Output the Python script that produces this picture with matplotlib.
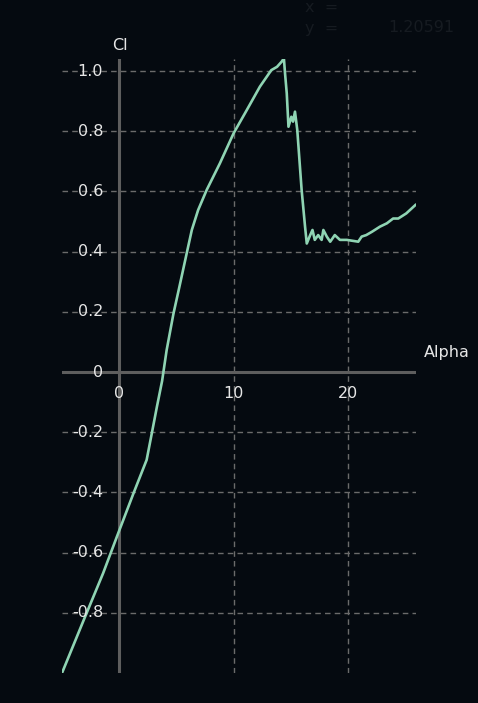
import matplotlib
matplotlib.use('Agg')
import matplotlib.pyplot as plt

# Lift curve (alpha in degrees, Cl)
alpha = [-5.0, -3.1, -1.4, -0.2, 1.25, 2.4, 2.85, 3.3, 3.75, 4.15, 4.75, 5.2, 5.9, 6.35,
         6.9, 7.65, 8.8, 10.0, 11.15, 12.3, 13.3, 13.8, 14.2, 14.4, 14.5, 14.65, 14.8,
         15.05, 15.2, 15.37, 15.57, 15.95, 16.25, 16.4, 16.7, 16.9, 17.1, 17.4, 17.7,
         17.85, 18.15, 18.45, 18.85, 19.3, 19.9, 20.9, 21.2, 21.6, 22.1, 22.8, 23.4,
         23.95, 24.4, 25.1, 25.9]
cl = [-1.0, -0.824, -0.668, -0.547, -0.403, -0.292, -0.204, -0.115, -0.03, 0.073, 0.195,
      0.272, 0.394, 0.472, 0.538, 0.605, 0.693, 0.793, 0.870, 0.948, 1.003, 1.014, 1.031,
      1.042, 0.992, 0.926, 0.815, 0.848, 0.832, 0.865, 0.804, 0.605, 0.483, 0.427, 0.455,
      0.472, 0.439, 0.455, 0.439, 0.472, 0.45, 0.433, 0.455, 0.439, 0.439, 0.433, 0.45,
      0.455, 0.466, 0.483, 0.494, 0.51, 0.51, 0.527, 0.555]

x_ticks = [0, 10, 20]
x_tick_labels = ['0', '10', '20']
y_ticks = [1.0, 0.8, 0.6, 0.4, 0.2, 0, -0.2, -0.4, -0.6, -0.8]
y_tick_labels = ['1.0', '0.8', '0.6', '0.4', '0.2', '0', '-0.2', '-0.4', '-0.6', '-0.8']

bg = '#050a10'
txt = '#e6e6e6'
fs = 11.5

fig = plt.figure(figsize=(4.78, 7.03), dpi=100, facecolor=bg)
W, H = 478, 703
ax = fig.add_axes([62 / W, 1 - 673 / H, (416 - 62) / W, (673 - 59) / H])
ax.set_facecolor(bg)
ax.set_xlim(-5.0, 25.95)
ax.set_ylim(-1.0, 1.04)

for s in ax.spines.values():
    s.set_visible(False)
ax.set_xticks([v for v in x_ticks if v != 0])
ax.set_yticks([v for v in y_ticks if v != 0])
ax.tick_params(length=0, labelbottom=False, labelleft=False)
ax.grid(True, color='#6b6b6b', linestyle=(0, (4, 3)), linewidth=1.0)

# axes through the origin
ax.axhline(0, color='#5e5e5e', linewidth=2.2, zorder=2)
ax.axvline(0, color='#5e5e5e', linewidth=2.2, zorder=2)

ax.plot(alpha, cl, color='#8fd4b3', linewidth=1.9, zorder=3)

# tick labels next to the axis lines
for v, lab in zip(y_ticks, y_tick_labels):
    ax.annotate(lab, (0, v), xytext=(-16, 0), textcoords='offset pixels',
                ha='right', va='center', color=txt, fontsize=fs)
for v, lab in zip(x_ticks, x_tick_labels):
    ax.annotate(lab, (v, 0), xytext=(0, -21), textcoords='offset pixels',
                ha='center', va='center', color=txt, fontsize=fs)

ax.annotate('Cl', (0, 1.04), xytext=(1, 14), textcoords='offset pixels',
            ha='center', va='center', color=txt, fontsize=fs, annotation_clip=False)
ax.annotate('Alpha', (25.95, 0), xytext=(31, 20), textcoords='offset pixels',
            ha='center', va='center', color=txt, fontsize=fs, annotation_clip=False)

# dim cursor readout at the top edge
dim = '#161b21'
fig.text(305 / W, 1.0, 'x  =', color=dim, fontsize=fs, ha='left', va='top')
fig.text(305 / W, 1 - 28 / H, 'y  =', color=dim, fontsize=fs, ha='left', va='center')
fig.text(388 / W, 1 - 28 / H, '1.20591', color=dim, fontsize=fs, ha='left', va='center')

fig.savefig('out.png', dpi=100, facecolor=bg)
